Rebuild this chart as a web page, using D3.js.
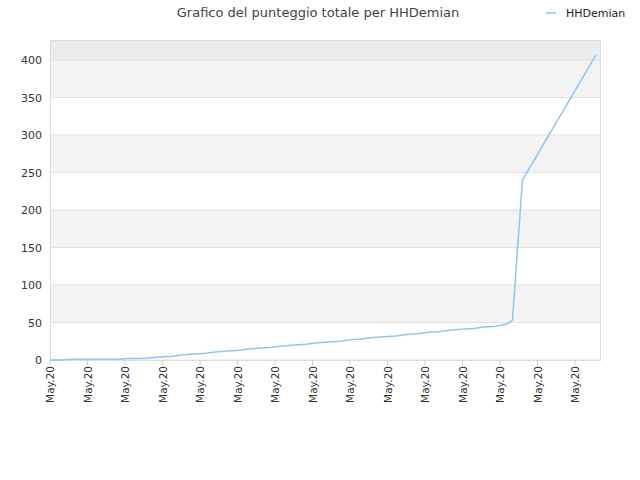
<!DOCTYPE html><html><head><meta charset="utf-8"><script src="https://cdn.jsdelivr.net/npm/d3@7"></script>
<style>body{margin:0;background:#fff}</style></head><body><svg id="c" width="640" height="480"></svg>
<script>
const title = "Grafico del punteggio totale per HHDemian";
const seriesName = "HHDemian";
const tickLabels = ["May.20","May.20","May.20","May.20","May.20","May.20","May.20","May.20","May.20","May.20","May.20","May.20","May.20","May.20","May.20"];
const days = [0,1,2,3,4,5,6,7,8,9,10,11,12,13,14,15,16,17,18,19,20,21,22,23,24,25,26,27,28,29,30,31,32,33,34,35,36,37,38,39,40,41,41.5,42.4,49];
const scores = [0,0,1,1,1,1,1,2,2,3,4,5,7,8,9,11,12,13,15,16,17,19,20,21,23,24,25,27,28,30,31,32,34,35,37,38,40,41,42,44,45,48,53,240,407];
const yTicks = [0,50,100,150,200,250,300,350,400];

const svg = d3.select("#c");
const L=50,R=600,T=40,B=360;
const x = d3.scaleLinear().domain([0,49]).range([L,596]);
const y = d3.scaleLinear().domain([0,426.7]).range([B,T]);
// bands
const bands=[[50,100],[150,200],[250,300],[350,400],[400,426.7]];
bands.forEach(([a,b])=>svg.append("rect").attr("x",L).attr("width",R-L).attr("y",y(b)).attr("height",y(a)-y(b)).attr("fill",b>400?"#ececec":"#f3f3f3"));
yTicks.forEach(v=>{svg.append("line").attr("x1",L).attr("x2",R).attr("y1",y(v)).attr("y2",y(v)).attr("stroke","#e2e2e2");});
svg.append("rect").attr("x",L+0.5).attr("y",T+0.5).attr("width",R-L).attr("height",B-T).attr("fill","none").attr("stroke","#ddd");
const ya=svg.append("g").attr("transform",`translate(${L},0)`).call(d3.axisLeft(y).tickValues(yTicks).tickSize(0).tickPadding(8));
ya.select(".domain").remove();
ya.selectAll("text").attr("font-family","DejaVu Sans").attr("font-size",11).attr("fill","#333");
const xt = d3.scaleBand().domain(d3.range(tickLabels.length)).range([L,L+37.5*15]);
tickLabels.forEach((t,i)=>{const px=L+37.5*i;
 svg.append("line").attr("x1",px).attr("x2",px).attr("y1",B).attr("y2",B+5).attr("stroke","#ccc");
 svg.append("text").attr("transform",`translate(${px+4},${B+6}) rotate(-90)`).attr("text-anchor","end").attr("font-family","DejaVu Sans").attr("font-size",10.5).attr("fill","#333").text(t);});
const line=d3.line().x((d,i)=>x(days[i])).y(d=>y(d));
svg.append("path").attr("d",line(scores)).attr("fill","none").attr("stroke","#90c4f5").attr("stroke-width",1.5);
svg.append("text").attr("x",318).attr("y",17).attr("text-anchor","middle").attr("font-family","DejaVu Sans").attr("font-size",13).attr("fill","#444").text(title);
svg.append("line").attr("x1",546).attr("x2",556).attr("y1",13).attr("y2",13).attr("stroke","#90c4f5").attr("stroke-width",1.5);
svg.append("text").attr("x",566).attr("y",17).attr("font-family","DejaVu Sans").attr("font-size",11).attr("fill","#222").text(seriesName);
</script></body></html>
